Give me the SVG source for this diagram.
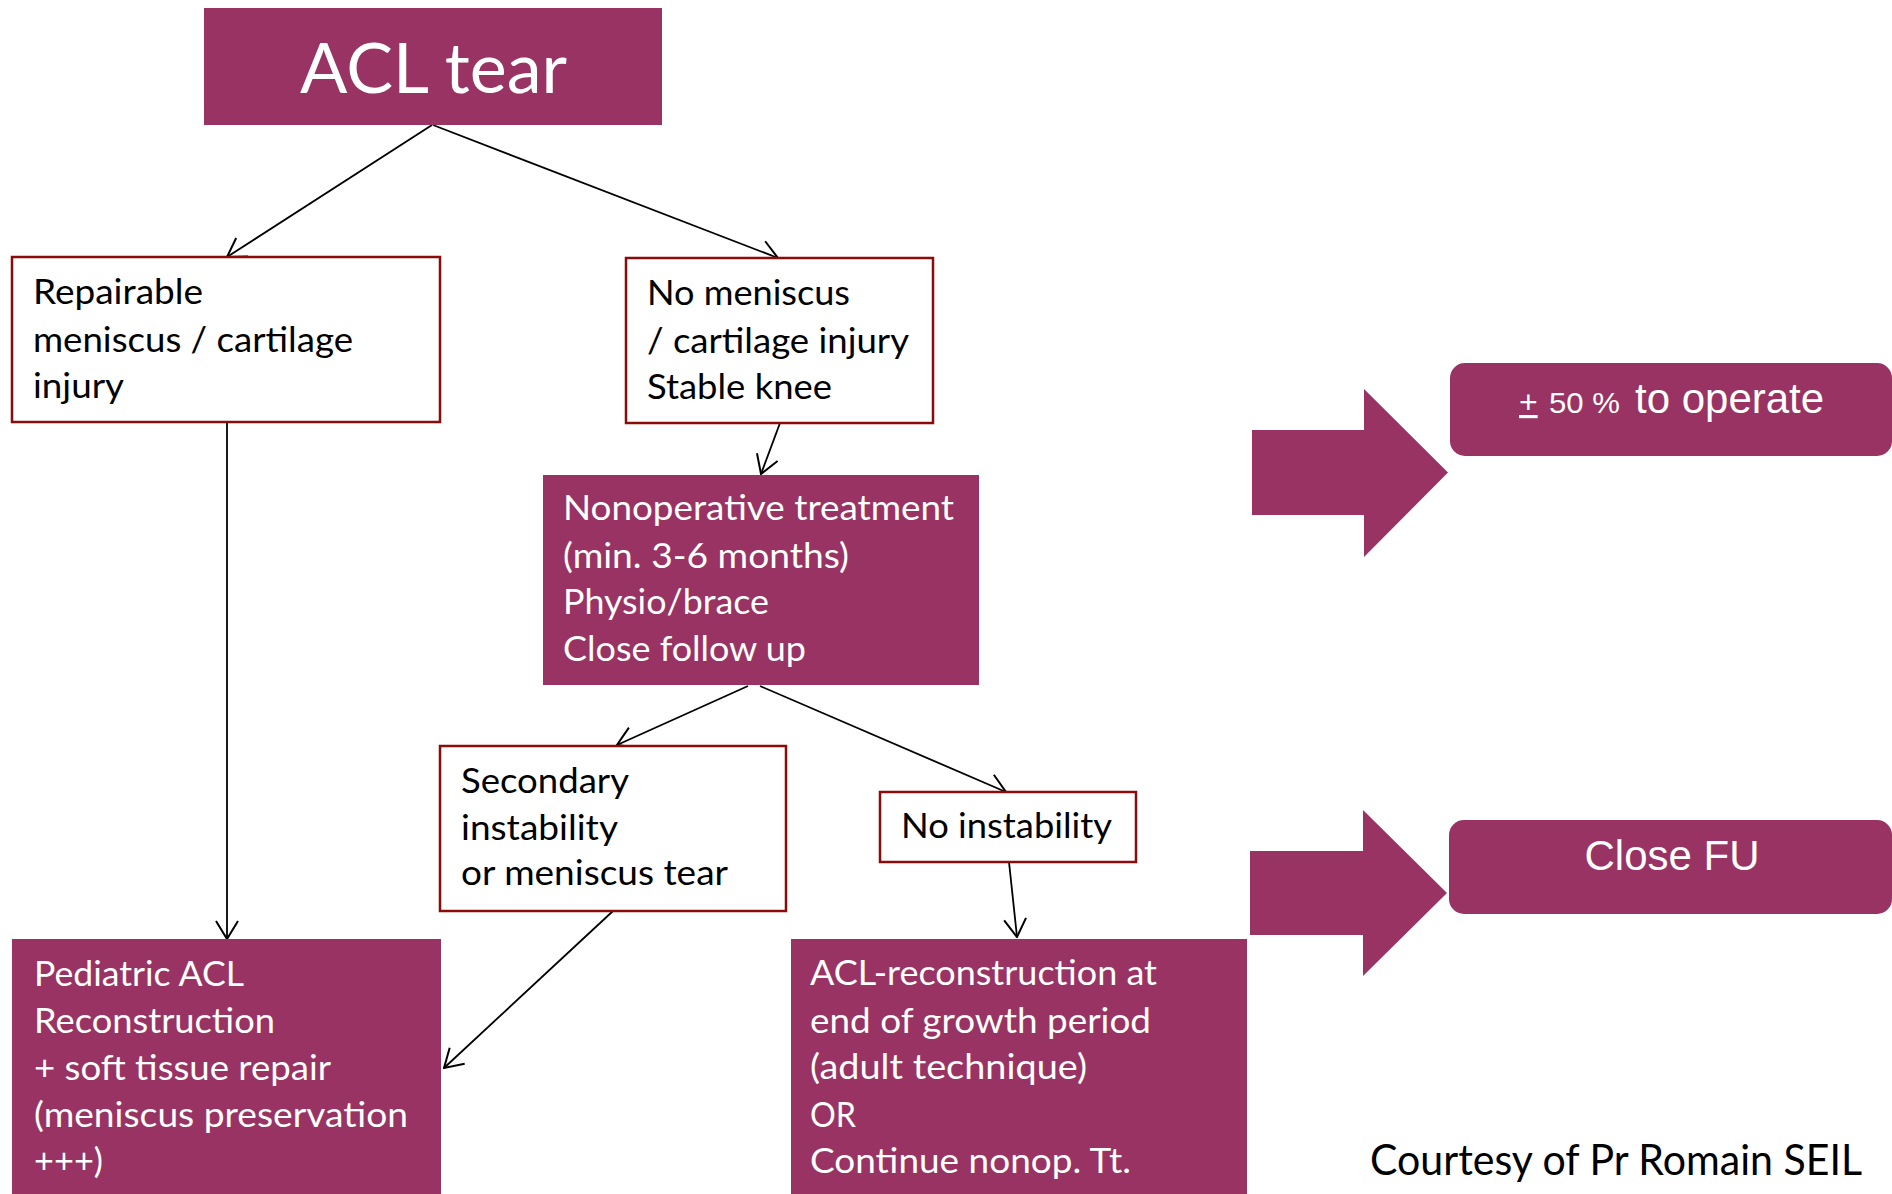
<svg xmlns="http://www.w3.org/2000/svg" width="1892" height="1194" viewBox="0 0 1892 1194">
<style>
.fill{fill:#983363;}
.wb{fill:#ffffff;stroke:#8b0a0a;stroke-width:2.5;}
.t{font-family:Lato,"Open Sans","Noto Sans",sans-serif;font-size:35px;fill:#000;}
.tw{font-family:Lato,"Open Sans","Noto Sans",sans-serif;font-size:35px;fill:#ffffff;}
.ar{font-family:"Liberation Sans",Arial,sans-serif;fill:#ffffff;}
.c{stroke:#000;stroke-width:1.8;fill:none;marker-end:url(#ah);}
</style>
<defs>
<marker id="ah" viewBox="0 0 20 24" refX="19" refY="12" markerWidth="20" markerHeight="24" markerUnits="userSpaceOnUse" orient="auto">
<path d="M1,1 L19,12 L1,23" fill="none" stroke="#000" stroke-width="2"/>
</marker>
</defs>
<rect width="1892" height="1194" fill="#ffffff"/>

<g id="connectors">
<line class="c" x1="432" y1="125" x2="227" y2="257"/>
<line class="c" x1="433" y1="125" x2="778" y2="258"/>
<line class="c" x1="227" y1="422" x2="227" y2="939"/>
<line class="c" x1="780" y1="423" x2="761" y2="474"/>
<line class="c" x1="748" y1="686" x2="617" y2="745"/>
<line class="c" x1="760" y1="686" x2="1006" y2="792"/>
<line class="c" x1="613" y1="911" x2="444" y2="1068"/>
<line class="c" x1="1009" y1="862" x2="1017" y2="937"/>
</g>

<g id="acl-tear">
<rect class="fill" x="204" y="8" width="458" height="117"/>
<text x="300" y="93" font-family="Lato,'Open Sans',sans-serif" font-size="69" fill="#fff" textLength="267" lengthAdjust="spacingAndGlyphs">ACL tear</text>
</g>

<g id="repairable">
<rect class="wb" x="12" y="257" width="428" height="165"/>
<text class="t" x="33" y="304" textLength="170" lengthAdjust="spacingAndGlyphs">Repairable</text>
<text class="t" x="33" y="352" textLength="320" lengthAdjust="spacingAndGlyphs">meniscus / cartilage</text>
<text class="t" x="33" y="398" textLength="91" lengthAdjust="spacingAndGlyphs">injury</text>
</g>

<g id="no-meniscus">
<rect class="wb" x="626" y="258" width="307" height="165"/>
<text class="t" x="647" y="305" textLength="203" lengthAdjust="spacingAndGlyphs">No meniscus</text>
<text class="t" x="647" y="353" textLength="262" lengthAdjust="spacingAndGlyphs">/ cartilage injury</text>
<text class="t" x="647" y="399" textLength="185" lengthAdjust="spacingAndGlyphs">Stable knee</text>
</g>

<g id="nonoperative">
<rect class="fill" x="543" y="475" width="436" height="210"/>
<text class="tw" x="563" y="520" textLength="391" lengthAdjust="spacingAndGlyphs">Nonoperative treatment</text>
<text class="tw" x="563" y="568" textLength="286" lengthAdjust="spacingAndGlyphs">(min. 3-6 months)</text>
<text class="tw" x="563" y="614" textLength="206" lengthAdjust="spacingAndGlyphs">Physio/brace</text>
<text class="tw" x="563" y="661" textLength="243" lengthAdjust="spacingAndGlyphs">Close follow up</text>
</g>

<g id="secondary">
<rect class="wb" x="440" y="746" width="346" height="165"/>
<text class="t" x="461" y="793" textLength="168" lengthAdjust="spacingAndGlyphs">Secondary</text>
<text class="t" x="461" y="840" textLength="157" lengthAdjust="spacingAndGlyphs">instability</text>
<text class="t" x="461" y="885" textLength="267" lengthAdjust="spacingAndGlyphs">or meniscus tear</text>
</g>

<g id="no-instability">
<rect class="wb" x="880" y="792" width="256" height="70"/>
<text class="t" x="901" y="838" textLength="211" lengthAdjust="spacingAndGlyphs">No instability</text>
</g>

<g id="pediatric">
<rect class="fill" x="12" y="939" width="429" height="260"/>
<text class="tw" x="34" y="986" textLength="210" lengthAdjust="spacingAndGlyphs">Pediatric ACL</text>
<text class="tw" x="34" y="1033" textLength="241" lengthAdjust="spacingAndGlyphs">Reconstruction</text>
<text class="tw" x="34" y="1080" textLength="297" lengthAdjust="spacingAndGlyphs">+ soft tissue repair</text>
<text class="tw" x="34" y="1127" textLength="374" lengthAdjust="spacingAndGlyphs">(meniscus preservation</text>
<text class="tw" x="34" y="1173" textLength="69" lengthAdjust="spacingAndGlyphs">+++)</text>
</g>

<g id="acl-reconstruction">
<rect class="fill" x="791" y="939" width="456" height="260"/>
<text class="tw" x="810" y="985" textLength="347" lengthAdjust="spacingAndGlyphs">ACL-reconstruction at</text>
<text class="tw" x="810" y="1033" textLength="341" lengthAdjust="spacingAndGlyphs">end of growth period</text>
<text class="tw" x="810" y="1079" textLength="277" lengthAdjust="spacingAndGlyphs">(adult technique)</text>
<text class="tw" x="810" y="1127" textLength="46" lengthAdjust="spacingAndGlyphs">OR</text>
<text class="tw" x="810" y="1173" textLength="321" lengthAdjust="spacingAndGlyphs">Continue nonop. Tt.</text>
</g>

<g id="big-arrow-1">
<polygon class="fill" points="1252,430 1364,430 1364,389 1448,472.5 1364,557 1364,515 1252,515"/>
</g>
<g id="big-arrow-2">
<polygon class="fill" points="1250,851 1363,851 1363,810 1447,893 1363,976 1363,935 1250,935"/>
</g>

<g id="operate">
<rect class="fill" x="1450" y="363" width="442" height="93" rx="15"/>
<text class="ar" x="1519" y="413" font-size="32" text-decoration="underline">+</text>
<text class="ar" x="1549" y="413" font-size="30" textLength="71" lengthAdjust="spacingAndGlyphs">50 %</text>
<text class="ar" x="1635" y="413" font-size="42">to operate</text>
</g>

<g id="close-fu">
<rect class="fill" x="1449" y="820" width="443" height="94" rx="15"/>
<text class="ar" x="1672" y="870" font-size="42" text-anchor="middle">Close FU</text>
</g>

<g id="courtesy">
<text class="t" x="1370" y="1175" font-size="42" style="font-size:42px" textLength="492" lengthAdjust="spacingAndGlyphs">Courtesy of Pr Romain SEIL</text>
</g>
</svg>
